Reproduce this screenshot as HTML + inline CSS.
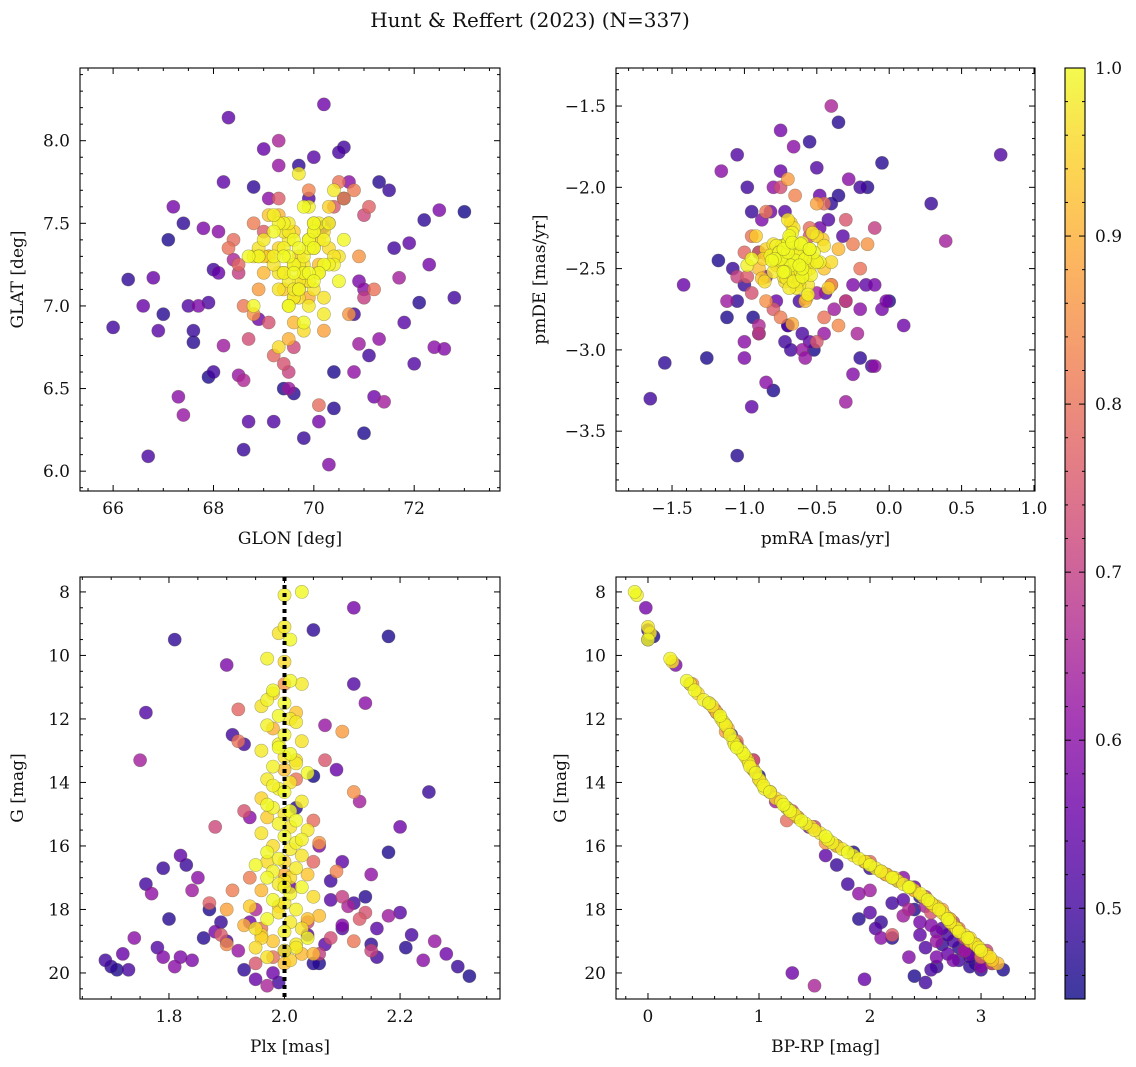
<!DOCTYPE html>
<html><head><meta charset="utf-8"><style>
html,body{margin:0;padding:0;background:#fff;}
svg{display:block;font-family:"DejaVu Serif","Liberation Serif",serif;}
</style></head><body>
<svg id="chart" width="1136" height="1067" viewBox="0 0 1136 1067" xmlns="http://www.w3.org/2000/svg">
<text x="530" y="27" font-size="20" text-anchor="middle" fill="#111">Hunt &amp; Reffert (2023) (N=337)</text>
</svg>
<script>
// members (100), intermediate (30), field (80)
const glon=[69.5,69.8,70.1,69.3,69.9,69.6,70.3,69.2,69.7,70.0,69.4,69.8,70.2,69.1,69.6,69.9,70.4,69.3,69.7,70.0,68.9,69.5,69.8,70.1,69.4,69.7,70.5,69.0,69.6,69.9,70.2,69.3,69.8,69.5,70.0,68.8,69.7,70.3,69.4,69.6,69.9,70.6,69.2,69.8,69.5,70.1,68.9,69.7,70.0,69.4,69.6,70.3,69.1,69.9,69.5,70.2,68.7,69.8,69.3,70.0,69.6,70.4,69.0,69.7,69.4,70.1,68.8,69.9,69.5,70.5,69.2,69.8,70.0,69.4,69.7,70.2,68.9,69.6,69.3,70.1,69.8,69.5,70.0,69.2,69.7,69.9,69.4,70.3,69.6,69.1,70.2,69.5,69.8,69.7,70.0,69.3,69.6,70.4,69.0,69.9,
68.3,70.4,68.8,71.0,69.2,70.8,68.5,70.2,69.0,71.2,68.7,70.6,69.5,68.4,70.9,69.1,70.5,68.9,71.1,69.6,68.6,70.3,69.9,70.7,68.5,69.4,71.0,68.8,70.1,69.3,
66.0,66.3,66.8,67.1,67.3,67.5,67.6,67.8,68.0,68.2,68.3,68.6,68.1,67.9,67.2,66.7,67.4,68.8,69.0,69.3,69.6,70.0,70.3,70.6,70.8,71.0,71.2,71.5,71.7,72.0,72.2,72.5,72.8,73.0,72.4,71.9,71.3,70.9,70.5,70.2,69.8,69.4,69.1,68.7,68.4,68.0,67.7,67.0,66.6,68.5,69.2,69.7,70.1,70.4,70.7,71.1,71.4,71.8,72.1,72.6,67.9,68.9,69.5,70.2,70.6,71.3,68.2,67.4,70.9,71.6,68.6,69.9,70.4,71.0,68.1,67.6,69.3,70.8,72.3,66.9];
const glat=[7.3,7.2,7.5,7.1,7.4,7.25,7.35,7.45,7.15,7.5,7.2,7.6,7.05,7.3,7.4,7.0,7.25,7.55,7.35,7.1,7.3,7.45,6.9,7.2,7.5,7.3,7.15,7.4,7.05,7.6,7.25,7.35,7.2,7.0,7.45,7.3,7.1,7.5,7.35,7.25,7.15,7.4,7.3,6.85,7.5,7.2,7.35,7.1,7.45,7.3,7.05,7.25,7.55,7.2,7.4,6.95,7.3,7.15,7.5,7.35,7.2,7.7,7.3,7.1,7.45,7.25,7.0,7.4,6.8,7.3,7.55,7.2,7.35,7.1,7.25,7.45,7.3,6.9,7.2,7.4,7.3,7.15,7.5,7.25,7.05,7.35,7.2,7.6,7.1,7.3,7.4,7.0,7.25,7.8,7.15,6.75,7.45,7.3,7.2,7.05,
7.35,7.6,6.95,7.55,6.7,7.7,7.2,6.85,7.45,7.1,6.8,7.65,6.6,7.4,7.3,6.9,7.75,7.1,7.6,6.75,7.0,7.5,7.7,6.95,7.25,6.65,7.05,7.5,6.4,7.65,
6.87,7.16,7.17,7.4,6.45,7.0,6.78,7.47,6.6,6.76,8.14,6.13,7.45,6.57,7.6,6.09,6.34,7.72,7.95,8.0,6.47,7.9,6.04,7.96,6.6,6.23,6.45,7.7,7.17,6.65,7.52,7.58,7.05,7.57,6.75,7.38,7.75,6.77,7.93,8.22,6.2,6.5,7.65,6.3,7.28,7.22,7.0,6.95,7.0,6.58,6.3,7.85,6.3,6.6,7.75,6.7,6.42,6.9,7.02,6.74,7.02,6.92,6.5,7.48,7.65,6.8,7.75,7.5,7.15,7.35,6.55,7.65,6.38,7.1,7.2,6.85,7.85,6.95,7.25,6.85];
const pmra=[-0.65,-0.7,-0.55,-0.8,-0.6,-0.72,-0.5,-0.68,-0.62,-0.85,-0.58,-0.75,-0.66,-0.45,-0.7,-0.63,-0.78,-0.55,-0.69,-0.6,-0.82,-0.64,-0.52,-0.71,-0.67,-0.9,-0.58,-0.74,-0.62,-0.48,-0.7,-0.66,-0.8,-0.56,-0.73,-0.61,-0.68,-0.95,-0.54,-0.77,-0.63,-0.69,-0.5,-0.86,-0.65,-0.72,-0.59,-0.76,-0.42,-0.67,-0.74,-0.6,-0.88,-0.55,-0.7,-0.64,-0.79,-0.57,-0.68,-0.4,-0.73,-0.62,-0.92,-0.66,-0.52,-0.78,-0.61,-0.7,-0.84,-0.56,-0.67,-0.75,-0.6,-0.46,-0.71,-0.65,-0.98,-0.58,-0.69,-0.74,-0.63,-0.8,-0.55,-0.68,-0.72,-0.6,-0.66,-0.87,-0.53,-0.7,-0.76,-0.62,-0.45,-0.69,-0.81,-0.58,-0.64,-0.73,-0.35,-0.67,
-0.95,-0.3,-0.85,-0.4,-1.0,-0.25,-0.9,-0.5,-0.8,-0.2,-0.75,-0.35,-1.05,-0.55,-0.15,-0.95,-0.45,-0.7,-0.6,-0.3,-0.85,-0.5,-0.65,-0.4,-0.9,-0.55,-0.1,-0.75,-0.45,-0.98,
-1.65,-1.55,-1.42,-1.26,-1.16,-1.05,-1.05,-1.0,-0.98,-1.12,-0.95,-0.9,-0.85,-0.8,-0.75,-0.7,-0.6,-0.55,-0.48,-0.4,-0.35,-0.3,-0.25,-0.2,-0.1,0.0,0.1,0.29,0.39,0.77,-1.05,-0.88,-0.72,-0.52,-0.28,-0.16,-0.05,-0.38,-0.6,-0.82,-1.08,-0.94,-0.66,-0.44,-0.22,-0.12,-0.02,-0.9,-0.75,-0.58,-0.42,-0.2,-0.1,-1.12,-1.0,-0.7,-0.5,-0.32,-0.15,-0.85,-0.62,-0.48,-0.3,-0.95,-1.18,-0.8,-0.55,-0.4,-0.25,-0.68,-0.9,-0.5,-0.35,-0.2,-0.78,-1.0,-0.45,-0.6,-0.05,-0.72];
const pmde=[-2.45,-2.4,-2.5,-2.35,-2.55,-2.42,-2.3,-2.48,-2.6,-2.38,-2.52,-2.44,-2.25,-2.5,-2.4,-2.58,-2.36,-2.46,-2.32,-2.54,-2.42,-2.62,-2.4,-2.48,-2.28,-2.5,-2.44,-2.36,-2.56,-2.46,-2.34,-2.52,-2.42,-2.66,-2.38,-2.48,-2.22,-2.44,-2.54,-2.4,-2.5,-2.3,-2.46,-2.58,-2.36,-2.52,-2.44,-2.4,-2.62,-2.34,-2.48,-2.42,-2.56,-2.38,-2.2,-2.5,-2.44,-2.68,-2.36,-2.46,-2.52,-2.4,-2.3,-2.58,-2.44,-2.48,-2.35,-2.54,-2.42,-2.6,-2.38,-2.46,-2.5,-2.32,-2.56,-2.4,-2.48,-2.7,-2.44,-2.36,-2.42,-2.52,-2.38,-2.46,-2.58,-2.34,-2.5,-2.44,-2.28,-2.54,-2.4,-2.48,-2.36,-2.62,-2.45,-2.5,-2.42,-2.55,-2.38,-2.84,
-2.3,-2.2,-2.7,-2.6,-2.4,-2.35,-2.9,-2.1,-2.75,-2.5,-2.0,-2.85,-2.55,-2.25,-2.35,-2.65,-2.8,-1.95,-2.45,-2.7,-2.15,-2.95,-2.05,-2.6,-2.4,-2.3,-2.25,-2.8,-2.1,-2.55,
-3.3,-3.08,-2.6,-3.05,-1.9,-1.8,-3.65,-3.05,-2.0,-2.7,-3.35,-2.9,-3.2,-3.25,-1.65,-2.85,-3.0,-1.72,-2.05,-1.5,-1.6,-2.7,-3.15,-2.0,-3.1,-2.7,-2.85,-2.1,-2.33,-1.8,-2.7,-2.2,-2.95,-3.0,-1.95,-2.6,-1.85,-2.75,-2.9,-2.15,-2.5,-2.8,-1.75,-2.65,-2.9,-3.1,-2.7,-2.4,-1.9,-3.05,-2.2,-3.05,-2.6,-2.8,-2.95,-2.85,-2.65,-2.3,-2.0,-2.55,-2.7,-2.25,-3.32,-2.15,-2.45,-2.0,-2.95,-2.1,-2.6,-3.0,-2.85,-1.88,-2.05,-2.75,-2.7,-2.6,-2.9,-2.45,-2.75,-2.15];
const plx=[2.03,2.0,2.0,1.99,2.01,1.97,2.0,2.01,2.03,1.98,1.97,2.0,1.96,2.02,1.99,2.01,1.97,1.98,2.0,2.03,1.99,1.96,2.01,2.02,1.98,2.0,2.04,1.97,2.01,1.99,2.0,1.96,2.03,1.98,2.01,2.0,1.97,2.02,1.99,2.04,1.96,2.0,2.02,1.98,2.01,1.97,2.03,1.99,2.0,1.95,2.02,1.98,2.04,1.97,2.0,1.99,2.03,1.96,2.01,2.05,1.98,2.0,1.94,2.02,1.99,2.06,1.97,2.01,1.93,2.03,2.0,1.96,2.04,1.98,2.02,1.95,2.0,2.03,1.97,2.01,1.98,2.02,1.99,2.01,1.97,2.0,2.04,1.96,2.02,2.0,2.03,1.97,2.0,2.02,1.98,2.01,1.99,1.95,2.05,2.0,
1.92,2.07,2.12,1.88,2.05,1.94,2.1,1.9,2.13,1.96,2.08,1.9,2.15,1.98,2.06,1.93,2.02,2.1,1.87,2.04,2.12,1.95,2.09,2.0,1.92,2.14,2.06,1.91,2.05,1.89,
1.69,1.7,1.72,1.71,1.74,1.78,1.8,1.82,1.76,1.84,1.82,1.83,1.85,1.87,1.88,1.9,1.92,1.93,1.95,1.97,2.05,2.07,2.1,2.12,2.15,2.18,2.2,2.25,1.75,1.76,1.81,1.9,1.93,2.05,1.94,2.1,2.14,2.18,2.22,2.28,2.3,2.32,2.24,2.16,2.11,2.08,2.06,2.02,2.09,2.07,2.12,2.05,2.12,2.18,2.14,1.91,2.13,2.2,1.86,1.79,1.73,1.98,2.0,1.89,2.06,1.77,2.04,2.15,1.84,1.99,1.95,2.1,2.21,1.81,2.01,1.79,2.26,2.16,1.94,2.08];
const gmag=[8.0,8.1,9.1,9.3,9.5,10.1,10.2,10.8,10.9,11.2,11.4,11.5,11.6,11.8,11.9,12.0,12.2,12.3,12.5,12.7,12.8,13.0,13.1,13.3,13.5,13.6,13.7,13.9,14.0,14.2,14.3,14.5,14.6,14.8,14.9,15.0,15.1,15.2,15.3,15.5,15.6,15.7,15.9,16.0,16.1,16.2,16.3,16.4,16.5,16.6,16.7,16.8,16.9,17.0,17.1,17.2,17.3,17.4,17.5,17.6,17.7,17.8,17.9,18.0,18.1,18.2,18.3,18.4,18.5,18.6,18.7,18.8,18.9,19.0,19.1,19.2,19.3,19.4,19.5,19.6,14.1,13.4,12.9,15.4,16.5,17.3,18.3,18.9,19.2,19.7,15.8,14.7,13.2,12.1,11.1,17.0,17.9,18.6,19.4,16.9,
12.7,13.3,14.3,15.4,16.5,17.0,17.6,18.0,18.3,18.6,18.9,19.1,19.3,19.5,15.9,14.9,13.9,12.4,17.8,18.4,19.0,19.7,16.8,10.9,11.7,18.1,19.4,17.4,15.2,18.8,
19.6,19.8,19.4,19.9,18.9,19.2,18.3,19.5,17.2,17.4,16.3,16.6,17.0,18.0,18.7,19.0,19.3,19.9,20.2,20.4,19.7,19.1,18.5,17.8,16.9,16.2,15.4,14.3,13.3,11.8,9.5,10.3,12.8,13.8,15.1,16.5,17.6,18.2,18.8,19.4,19.8,20.1,19.6,18.6,17.9,17.1,16.0,14.8,13.6,12.2,10.9,9.2,8.5,9.4,11.5,12.5,14.6,18.1,18.9,19.5,19.9,20.0,19.3,18.4,19.7,17.5,18.8,19.1,19.6,20.3,18.0,18.6,19.2,19.8,17.3,16.7,19.0,19.5,18.4,17.7];
const bprp=[-0.12,-0.1,0.0,0.02,0.0,0.2,0.22,0.35,0.38,0.45,0.5,0.55,0.58,0.62,0.65,0.66,0.7,0.72,0.74,0.77,0.78,0.84,0.86,0.9,0.92,0.95,0.97,1.0,1.02,1.05,1.1,1.15,1.2,1.25,1.28,1.32,1.35,1.38,1.42,1.5,1.55,1.6,1.66,1.7,1.75,1.8,1.85,1.9,1.95,2.0,2.05,2.1,2.15,2.2,2.25,2.3,2.35,2.4,2.45,2.48,2.52,2.55,2.6,2.62,2.65,2.68,2.7,2.72,2.75,2.78,2.8,2.85,2.88,2.9,2.95,2.98,3.0,3.05,3.08,3.1,1.04,0.91,0.8,1.47,1.96,2.36,2.72,2.9,2.98,3.15,1.62,1.22,0.88,0.68,0.42,2.22,2.58,2.78,3.04,2.14,
0.8,0.95,1.1,1.5,2.0,2.2,2.5,2.65,2.72,2.8,2.85,2.95,3.05,3.0,1.6,1.3,1.0,0.7,2.55,2.75,2.9,3.1,2.1,0.4,0.6,2.55,3.0,2.4,1.25,2.2,
2.8,2.9,2.7,3.2,2.1,2.5,1.9,2.6,1.8,2.0,1.6,1.7,2.3,2.4,2.6,2.75,2.85,3.0,1.95,1.5,3.1,2.95,2.55,2.2,2.15,1.85,1.45,1.1,0.95,0.62,0.0,0.25,0.8,1.0,1.35,1.95,2.45,2.3,2.7,2.9,2.6,2.4,3.05,2.65,2.5,2.25,1.7,1.25,0.95,0.7,0.38,0.0,-0.02,0.05,0.55,0.75,1.15,2.0,2.2,2.35,2.55,1.3,2.85,2.1,2.95,1.9,2.45,2.65,2.75,2.5,2.35,2.05,2.8,3.0,2.4,2.0,2.6,2.9,2.45,2.3];
const prob=[1.0,0.99,0.98,0.97,1.0,0.99,0.96,1.0,0.98,0.95,0.99,1.0,0.97,0.93,1.0,0.98,0.99,0.9,1.0,0.97,0.99,0.98,1.0,0.96,0.99,0.92,1.0,0.98,0.97,0.99,1.0,0.95,0.98,0.99,1.0,0.97,0.94,1.0,0.99,0.98,0.97,1.0,0.99,0.96,0.98,1.0,0.97,0.99,0.95,1.0,0.98,0.99,0.93,1.0,0.97,0.98,1.0,0.91,0.99,0.96,1.0,0.98,0.94,0.99,0.97,0.92,1.0,0.98,0.9,0.97,0.99,0.95,1.0,0.93,0.98,0.96,0.99,0.91,0.97,0.94,0.99,0.98,1.0,0.97,0.96,0.99,0.93,0.95,0.98,0.92,0.99,1.0,0.97,0.98,1.0,0.96,0.94,0.97,0.91,0.89,
0.8,0.75,0.85,0.72,0.78,0.82,0.7,0.88,0.76,0.8,0.73,0.84,0.71,0.79,0.86,0.74,0.8,0.87,0.77,0.72,0.81,0.75,0.83,0.86,0.78,0.74,0.7,0.82,0.79,0.76,
0.5,0.48,0.55,0.46,0.6,0.52,0.47,0.58,0.5,0.63,0.54,0.49,0.6,0.46,0.57,0.51,0.62,0.48,0.55,0.65,0.47,0.53,0.59,0.5,0.61,0.46,0.56,0.49,0.64,0.52,0.48,0.58,0.5,0.45,0.6,0.54,0.47,0.63,0.51,0.56,0.49,0.46,0.6,0.53,0.65,0.5,0.58,0.47,0.55,0.62,0.52,0.48,0.57,0.46,0.6,0.5,0.64,0.53,0.47,0.59,0.51,0.56,0.63,0.49,0.46,0.61,0.54,0.48,0.58,0.5,0.66,0.52,0.47,0.6,0.55,0.49,0.62,0.5,0.57,0.53];
const cbTicks=[0.5,0.6,0.7,0.8,0.9,1.0];
const plxCenter=2.0;
const cMin=0.446,cMax=1.0;

const NS="http://www.w3.org/2000/svg";
const svg=document.getElementById('chart');
function mk(tag,attrs,parent){const e=document.createElementNS(NS,tag);for(const k in attrs)e.setAttribute(k,attrs[k]);(parent||svg).appendChild(e);return e;}
const stops=[[0,[13,8,135]],[0.1,[65,4,157]],[0.2,[106,0,168]],[0.3,[143,13,164]],[0.4,[177,42,144]],[0.5,[204,71,120]],[0.6,[225,100,98]],[0.7,[242,132,75]],[0.8,[252,166,54]],[0.9,[252,206,37]],[1,[240,249,33]]];
function plasma(t){t=Math.max(0,Math.min(1,t));for(let i=1;i<stops.length;i++){if(t<=stops[i][0]){const a=stops[i-1],b=stops[i],f=(t-a[0])/(b[0]-a[0]);const c=a[1].map((v,j)=>Math.round(v+(b[1][j]-v)*f));return `rgb(${c[0]},${c[1]},${c[2]})`;}}return 'rgb(240,249,33)';}
function fmt(v,d){return (v<0?'−':'')+Math.abs(v).toFixed(d);}

const order=prob.map((p,i)=>i).sort((a,b)=>prob[a]-prob[b]);

function panel(cfg){
  const g=mk('g',{});
  
  
  const sx=v=>cfg.px0+(v-cfg.xd[0])/(cfg.xd[1]-cfg.xd[0])*(cfg.px1-cfg.px0);
  const sy=v=>cfg.py0+(v-cfg.yd[0])/(cfg.yd[1]-cfg.yd[0])*(cfg.py1-cfg.py0);
  const pts=mk('g',{},g);
  
  
  order.forEach(i=>{
    const c=mk('circle',{cx:sx(cfg.xs[i]).toFixed(1),cy:sy(cfg.ys[i]).toFixed(1),r:6.6,fill:plasma((prob[i]-cMin)/(cMax-cMin)),'fill-opacity':0.8,stroke:'rgba(90,90,60,0.45)','stroke-width':0.6},pts);
    
    
  });
  if(cfg.vline!==undefined){
    const l=mk('line',{x1:sx(cfg.vline),x2:sx(cfg.vline),y1:cfg.py0,y2:cfg.py1,stroke:'#000','stroke-width':4,'stroke-dasharray':'4,4'},g);
    
    
  }
  const fr=mk('rect',{x:cfg.px0,y:cfg.py0,width:cfg.px1-cfg.px0,height:cfg.py1-cfg.py0,fill:'none',stroke:'#000','stroke-width':1.1},g);
  
  
  const lo=Math.min(cfg.xd[0],cfg.xd[1]),hi=Math.max(cfg.xd[0],cfg.xd[1]);
  for(let k=Math.ceil(lo/cfg.xmin-1e-6);k*cfg.xmin<=hi+1e-9;k++){
    const v=k*cfg.xmin,x=sx(v);const major=Math.abs(v/cfg.xmaj-Math.round(v/cfg.xmaj))<1e-6;const L=major?6:3;
    mk('line',{x1:x,x2:x,y1:cfg.py1,y2:cfg.py1-L,stroke:'#000','stroke-width':1},g);
    mk('line',{x1:x,x2:x,y1:cfg.py0,y2:cfg.py0+L,stroke:'#000','stroke-width':1},g);
    if(major){const t=mk('text',{x:x,y:cfg.py1+23,'font-size':17,'text-anchor':'middle',fill:'#111'},g);t.textContent=fmt(v,cfg.xdec);
      }
  }
  const ylo=Math.min(cfg.yd[0],cfg.yd[1]),yhi=Math.max(cfg.yd[0],cfg.yd[1]);
  for(let k=Math.ceil(ylo/cfg.ymin-1e-6);k*cfg.ymin<=yhi+1e-9;k++){
    const v=k*cfg.ymin,y=sy(v);const major=Math.abs(v/cfg.ymaj-Math.round(v/cfg.ymaj))<1e-6;const L=major?6:3;
    mk('line',{x1:cfg.px0,x2:cfg.px0+L,y1:y,y2:y,stroke:'#000','stroke-width':1},g);
    mk('line',{x1:cfg.px1,x2:cfg.px1-L,y1:y,y2:y,stroke:'#000','stroke-width':1},g);
    if(major){const t=mk('text',{x:cfg.px0-10,y:y+6,'font-size':17,'text-anchor':'end',fill:'#111'},g);t.textContent=fmt(v,cfg.ydec);
      }
  }
  const xl=mk('text',{x:(cfg.px0+cfg.px1)/2,y:cfg.py1+53,'font-size':17,'text-anchor':'middle',fill:'#111'},g);xl.textContent=cfg.xlabel;
  
  const cy=(cfg.py0+cfg.py1)/2;
  const yl=mk('text',{x:cfg.ylx,y:cy,'font-size':17,'text-anchor':'middle',fill:'#111',transform:`rotate(-90 ${cfg.ylx} ${cy})`},g);yl.textContent=cfg.ylabel;
  
}
panel({name:'glon-glat-panel',xs:glon,ys:glat,px0:80,px1:500,py0:68,py1:491,xd:[65.34,73.71],yd:[8.44,5.88],xmaj:2,xmin:0.5,ymaj:0.5,ymin:0.1,xdec:0,ydec:1,xlabel:'GLON [deg]',ylabel:'GLAT [deg]',ylx:23});
panel({name:'proper-motion-panel',xs:pmra,ys:pmde,px0:616,px1:1035,py0:68,py1:491,xd:[-1.887,1.007],yd:[-1.266,-3.868],xmaj:0.5,xmin:0.1,ymaj:0.5,ymin:0.1,xdec:1,ydec:1,xlabel:'pmRA [mas/yr]',ylabel:'pmDE [mas/yr]',ylx:545});
panel({name:'parallax-mag-panel',xs:plx,ys:gmag,px0:80,px1:500,py0:577,py1:999,xd:[1.646,2.373],yd:[7.53,20.82],xmaj:0.2,xmin:0.05,ymaj:2,ymin:0.5,xdec:1,ydec:0,xlabel:'Plx [mas]',ylabel:'G [mag]',ylx:23,vline:plxCenter});
panel({name:'cmd-panel',xs:bprp,ys:gmag,px0:616,px1:1035,py0:577,py1:999,xd:[-0.288,3.486],yd:[7.53,20.82],xmaj:1,xmin:0.2,ymaj:2,ymin:0.5,xdec:0,ydec:0,xlabel:'BP-RP [mag]',ylabel:'G [mag]',ylx:566});

// colorbar
(function(){
  const g=mk('g',{});
  
  
  const x0=1065,x1=1085,y0=68,y1=999;
  const defs=mk('defs',{},g);
  const lg=mk('linearGradient',{id:'cbg',x1:0,y1:1,x2:0,y2:0},defs);
  for(let i=0;i<=20;i++){mk('stop',{offset:i/20,'stop-color':plasma(i/20),'stop-opacity':0.8},lg);}
  mk('rect',{x:x0,y:y0,width:x1-x0,height:y1-y0,fill:'url(#cbg)',stroke:'#000','stroke-width':1.1},g);
  const sy=v=>y1-(v-cMin)/(cMax-cMin)*(y1-y0);
  for(let k=23;k<=50;k++){const v=k*0.02;if(v<cMin)continue;const y=sy(v);const major=k%5===0;const L=major?6:3;
    mk('line',{x1:x1,x2:x1-L,y1:y,y2:y,stroke:'#000','stroke-width':1},g);
    mk('line',{x1:x0,x2:x0+L,y1:y,y2:y,stroke:'#000','stroke-width':1},g);}
  cbTicks.forEach(v=>{const t=mk('text',{x:x1+10,y:sy(v)+6,'font-size':17,fill:'#111'},g);t.textContent=v.toFixed(1);
    });
})();
</script>
</body></html>
